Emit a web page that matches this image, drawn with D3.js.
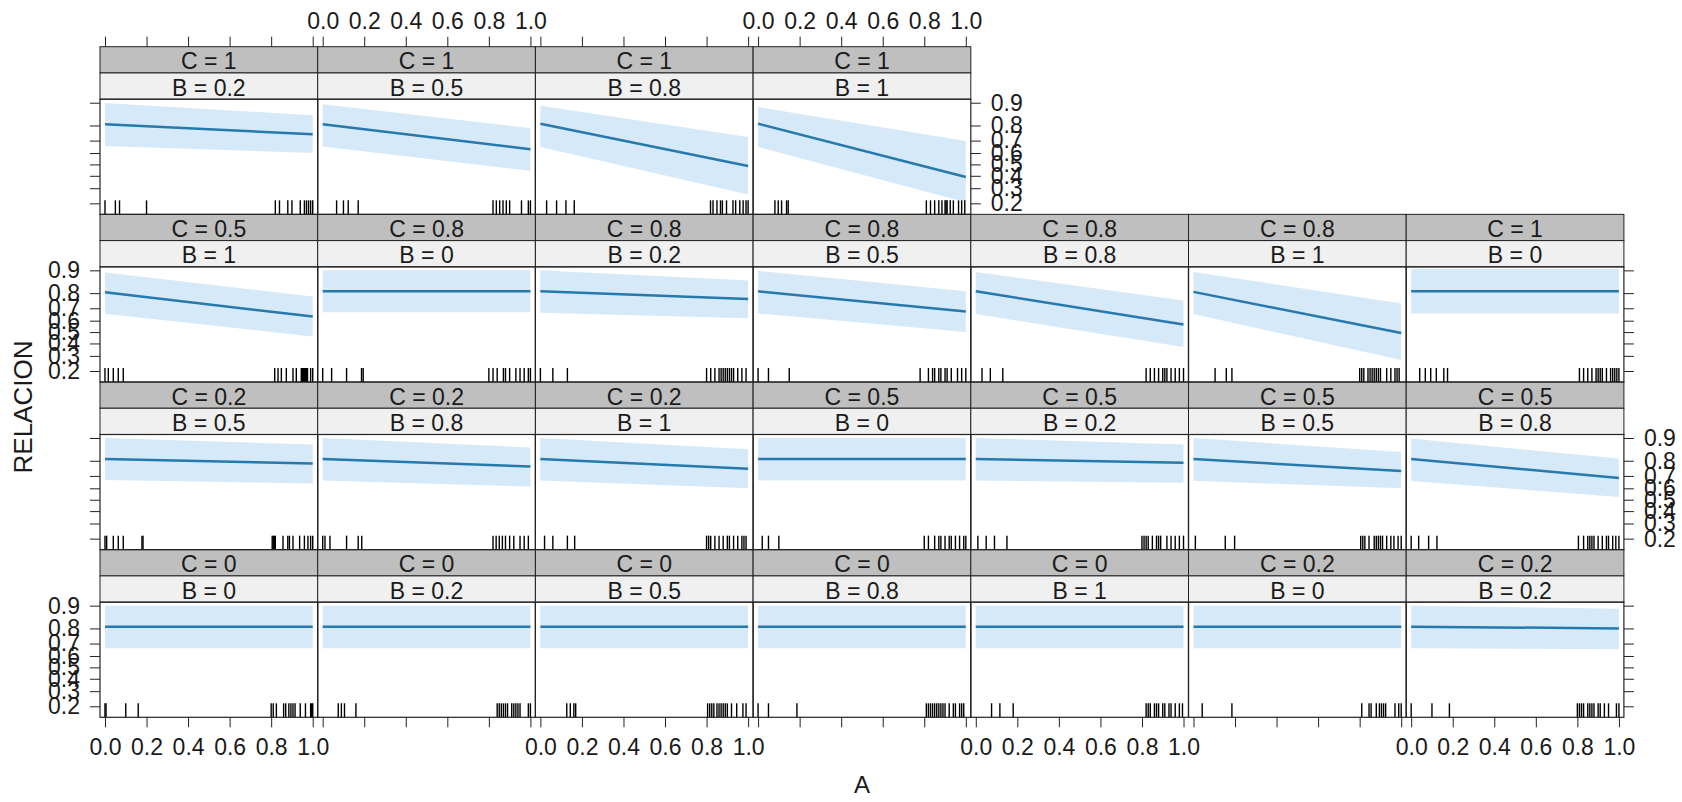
<!DOCTYPE html>
<html>
<head>
<meta charset="utf-8">
<script src="https://cdn.jsdelivr.net/npm/d3@7"></script>
<style>
  body { margin: 0; background: #fff; }
  svg text { font-family: "Liberation Sans Narrow", "Arial Narrow", "Liberation Sans", Arial, sans-serif; fill: #1a1a1a; }
</style>
</head>
<body>
<div id="viz"></div>
<script>
// conditioning levels of each panel, in lattice order (bottom-left first, then row by row upwards)
const panelC = [0, 0, 0, 0, 0, 0.2, 0.2,
                0.2, 0.2, 0.2, 0.5, 0.5, 0.5, 0.5,
                0.5, 0.8, 0.8, 0.8, 0.8, 0.8, 1,
                1, 1, 1, 1];
const panelB = [0, 0.2, 0.5, 0.8, 1, 0, 0.2,
                0.5, 0.8, 1, 0, 0.2, 0.5, 0.8,
                1, 0, 0.2, 0.5, 0.8, 1, 0,
                0.2, 0.5, 0.8, 1];

// fitted RELACION and confidence band at A = 0 and A = 1
const fitStart   = [0.81, 0.81, 0.81, 0.81, 0.81, 0.81, 0.81,
                    0.81, 0.81, 0.81, 0.81, 0.81, 0.81, 0.81,
                    0.805, 0.81, 0.81, 0.81, 0.81, 0.807, 0.81,
                    0.807, 0.807, 0.81, 0.81];
const fitEnd     = [0.81, 0.81, 0.81, 0.81, 0.81, 0.81, 0.80,
                    0.784, 0.765, 0.75, 0.81, 0.788, 0.735, 0.685,
                    0.635, 0.81, 0.765, 0.675, 0.567, 0.492, 0.81,
                    0.745, 0.632, 0.486, 0.39];
const lowerStart = [0.664, 0.664, 0.664, 0.664, 0.664, 0.664, 0.664,
                    0.668, 0.665, 0.665, 0.664, 0.665, 0.662, 0.66,
                    0.658, 0.67, 0.665, 0.66, 0.655, 0.655, 0.66,
                    0.659, 0.655, 0.65, 0.65];
const lowerEnd   = [0.664, 0.664, 0.664, 0.664, 0.664, 0.664, 0.655,
                    0.64, 0.615, 0.60, 0.664, 0.646, 0.60, 0.525,
                    0.46, 0.67, 0.62, 0.50, 0.37, 0.27, 0.66,
                    0.60, 0.442, 0.256, 0.207];
const upperStart = [0.9, 0.9, 0.9, 0.9, 0.9, 0.9, 0.9,
                    0.9, 0.9, 0.9, 0.9, 0.9, 0.9, 0.898,
                    0.893, 0.9, 0.9, 0.898, 0.895, 0.895, 0.905,
                    0.899, 0.895, 0.89, 0.885];
const upperEnd   = [0.9, 0.9, 0.9, 0.9, 0.9, 0.9, 0.89,
                    0.877, 0.865, 0.858, 0.9, 0.877, 0.845, 0.812,
                    0.78, 0.9, 0.862, 0.81, 0.755, 0.734, 0.905,
                    0.852, 0.784, 0.727, 0.697];

// observed A values shown as rug in each panel
const rugA = [
  [0, 0.005, 0.1, 0.16, 0.8, 0.81, 0.825, 0.86, 0.87, 0.885, 0.895, 0.905, 0.915, 0.94, 0.965, 0.99, 0.995, 1.0],
  [0.075, 0.09, 0.105, 0.16, 0.84, 0.85, 0.86, 0.87, 0.88, 0.89, 0.91, 0.92, 0.93, 0.94, 0.95, 0.99, 1.0],
  [0.127, 0.144, 0.161, 0.17, 0.805, 0.815, 0.825, 0.835, 0.85, 0.86, 0.87, 0.88, 0.89, 0.9, 0.92, 0.945, 0.975, 0.99],
  [0, 0.05, 0.187, 0.81, 0.82, 0.83, 0.84, 0.85, 0.86, 0.87, 0.88, 0.89, 0.9, 0.92, 0.94, 0.95, 0.97, 0.98, 0.99],
  [0.076, 0.116, 0.18, 0.82, 0.83, 0.84, 0.86, 0.87, 0.88, 0.9, 0.91, 0.93, 0.94, 0.96, 0.98, 0.995],
  [0.042, 0.185, 0.81, 0.845, 0.855, 0.88, 0.895, 0.905, 0.915, 0.925, 0.97, 0.988, 1.0],
  [0.0, 0.1, 0.184, 0.8, 0.81, 0.82, 0.83, 0.85, 0.86, 0.87, 0.88, 0.9, 0.91, 0.93, 0.95, 0.988, 1.0],
  [0, 0.008, 0.04, 0.064, 0.088, 0.178, 0.183, 0.805, 0.81, 0.815, 0.82, 0.857, 0.88, 0.888, 0.905, 0.937, 0.96, 0.977, 0.99, 1.0],
  [0, 0.011, 0.035, 0.115, 0.171, 0.188, 0.82, 0.835, 0.85, 0.865, 0.88, 0.9, 0.92, 0.95, 0.97, 0.99],
  [0.02, 0.06, 0.13, 0.165, 0.8, 0.81, 0.82, 0.84, 0.86, 0.88, 0.9, 0.91, 0.93, 0.95, 0.97, 0.98, 0.99],
  [0.02, 0.05, 0.1, 0.8, 0.82, 0.85, 0.87, 0.88, 0.9, 0.92, 0.93, 0.95, 0.97, 0.99, 1.0],
  [0.01, 0.05, 0.09, 0.15, 0.8, 0.81, 0.82, 0.83, 0.85, 0.87, 0.88, 0.89, 0.92, 0.94, 0.96, 0.98, 1.0],
  [0.009, 0.153, 0.198, 0.805, 0.815, 0.825, 0.845, 0.87, 0.88, 0.89, 0.9, 0.91, 0.93, 0.95, 0.965, 0.985, 1.0],
  [0, 0.036, 0.084, 0.124, 0.805, 0.83, 0.85, 0.86, 0.87, 0.88, 0.9, 0.92, 0.94, 0.95, 0.97, 0.985, 1.0],
  [0, 0.016, 0.04, 0.064, 0.088, 0.817, 0.833, 0.849, 0.873, 0.905, 0.921, 0.945, 0.95, 0.955, 0.96, 0.965, 0.97, 0.975, 0.99, 1.0],
  [0, 0.043, 0.115, 0.187, 0.195, 0.8, 0.82, 0.84, 0.87, 0.88, 0.9, 0.93, 0.95, 0.97, 0.99, 1.0],
  [0.0, 0.06, 0.13, 0.8, 0.82, 0.84, 0.86, 0.87, 0.88, 0.89, 0.9, 0.91, 0.92, 0.93, 0.95, 0.97, 0.99],
  [0.0, 0.05, 0.15, 0.78, 0.82, 0.84, 0.85, 0.87, 0.88, 0.9, 0.91, 0.93, 0.96, 0.98, 1.0],
  [0.03, 0.07, 0.13, 0.82, 0.84, 0.86, 0.88, 0.9, 0.91, 0.92, 0.94, 0.96, 0.98, 1.0],
  [0.104, 0.158, 0.185, 0.8, 0.81, 0.82, 0.84, 0.85, 0.86, 0.87, 0.88, 0.89, 0.9, 0.93, 0.95, 0.97, 0.98, 0.99],
  [0.041, 0.068, 0.094, 0.121, 0.157, 0.175, 0.81, 0.83, 0.85, 0.87, 0.89, 0.9, 0.91, 0.92, 0.94, 0.96, 0.97, 0.98, 0.99, 1.0],
  [0, 0.05, 0.07, 0.2, 0.82, 0.84, 0.88, 0.9, 0.94, 0.96, 0.97, 0.98, 0.99, 1.0],
  [0.067, 0.1, 0.123, 0.171, 0.82, 0.836, 0.852, 0.868, 0.884, 0.9, 0.957, 0.99, 1.0],
  [0.03, 0.078, 0.123, 0.163, 0.819, 0.831, 0.85, 0.867, 0.876, 0.896, 0.927, 0.94, 0.96, 0.976, 0.99, 1.0],
  [0.081, 0.097, 0.113, 0.137, 0.145, 0.81, 0.83, 0.85, 0.87, 0.885, 0.9, 0.905, 0.91, 0.925, 0.94, 0.965, 0.98, 0.995]
];

const xTicks = [0, 0.2, 0.4, 0.6, 0.8, 1.0];
const yTicks = [0.2, 0.3, 0.4, 0.5, 0.6, 0.7, 0.8, 0.9];

// page layout
const width = 1682, height = 802;
const marginLeft = 100, marginTop = 46.7;
const nCols = 7, nRows = 4;
const colW = 217.7, rowH = 167.65, stripH = 26.25;
const panelH = rowH - 2 * stripH;
const fontSize = "23px";
const lineColor = "#2678ad", bandColor = "#d6e9f8";
const darkStrip = "#bfbfbf", lightStrip = "#f0f0f0", frame = "#222";

const logit = p => Math.log(p / (1 - p));

let svg = d3.select("#viz")
  .append("svg")
    .attr("width", width)
    .attr("height", height);

// x and y scales shared by every panel (y is on the logit scale, like effects plots)
let xScale = d3.scaleLinear()
  .domain([-0.024, 1.024])
  .range([0, colW]);
let yLogit = d3.scaleLinear()
  .domain([-1.778, 2.322])
  .range([panelH, 0]);
let yScale = p => yLogit(logit(p));

function styleAxis(g) {
  g.select(".domain").remove();
  g.selectAll(".tick line").attr("stroke", frame);
  g.selectAll(".tick text")
    .style("font-size", fontSize)
    .attr("fill", "#1a1a1a");
  g.attr("font-family", null).attr("font-size", null);
}

let lastInRow = [3, 6, 6, 6]; // row index from top -> column of the last panel

for (let i = 0; i < panelC.length; i++) {
  let col = i % nCols;
  let row = nRows - 1 - Math.floor(i / nCols);  // row counted from the top
  let x0 = marginLeft + col * colW;
  let y0 = marginTop + row * rowH;

  let g = svg.append("g")
    .attr("transform", "translate(" + x0 + "," + y0 + ")");

  // strips: C on the outer one, B on the inner one
  g.append("rect")
    .attr("width", colW).attr("height", stripH)
    .attr("fill", darkStrip).attr("stroke", frame);
  g.append("rect")
    .attr("y", stripH)
    .attr("width", colW).attr("height", stripH)
    .attr("fill", lightStrip).attr("stroke", frame);
  g.append("text")
    .attr("x", colW / 2).attr("y", stripH / 2 + 1.5)
    .attr("dy", "0.35em")
    .attr("text-anchor", "middle")
    .style("font-size", fontSize)
    .text("C = " + panelC[i]);
  g.append("text")
    .attr("x", colW / 2).attr("y", stripH * 1.5 + 1.5)
    .attr("dy", "0.35em")
    .attr("text-anchor", "middle")
    .style("font-size", fontSize)
    .text("B = " + panelB[i]);

  let panel = g.append("g")
    .attr("transform", "translate(0," + (2 * stripH) + ")");

  // confidence band and fitted line
  let pts = [
    {a: 0, fit: fitStart[i], lo: lowerStart[i], hi: upperStart[i]},
    {a: 1, fit: fitEnd[i], lo: lowerEnd[i], hi: upperEnd[i]}
  ];
  panel.append("path")
    .datum(pts)
    .attr("fill", bandColor)
    .attr("d", d3.area()
      .x(d => xScale(d.a))
      .y0(d => yScale(d.lo))
      .y1(d => yScale(d.hi)));
  panel.append("path")
    .datum(pts)
    .attr("fill", "none")
    .attr("stroke", lineColor)
    .attr("stroke-width", 2.5)
    .attr("d", d3.line()
      .x(d => xScale(d.a))
      .y(d => yScale(d.fit)));

  // rug of observed A
  panel.selectAll("line.rug")
    .data(rugA[i])
    .enter()
      .append("line")
      .attr("class", "rug")
      .attr("x1", d => xScale(d)).attr("x2", d => xScale(d))
      .attr("y1", panelH).attr("y2", panelH - 14)
      .attr("stroke", "#000")
      .attr("stroke-width", 1.4);

  panel.append("rect")
    .attr("width", colW).attr("height", panelH)
    .attr("fill", "none").attr("stroke", frame).attr("stroke-width", 1.2);

  // bottom axis under the lowest row, labels alternate
  if (row === nRows - 1) {
    panel.append("g")
      .attr("transform", "translate(0," + panelH + ")")
      .call(d3.axisBottom(xScale)
        .tickValues(xTicks)
        .tickSize(10).tickSizeOuter(0).tickPadding(11)
        .tickFormat(col % 2 === 0 ? d3.format(".1f") : () => ""))
      .call(styleAxis);
  }
  // top axis above the top row
  if (row === 0) {
    g.append("g")
      .call(d3.axisTop(xScale)
        .tickValues(xTicks)
        .tickSize(10).tickSizeOuter(0).tickPadding(8)
        .tickFormat(col % 2 === 1 ? d3.format(".1f") : () => ""))
      .call(styleAxis);
  }
  // left axis
  if (col === 0) {
    panel.append("g")
      .call(d3.axisLeft(yLogit)
        .tickValues(yTicks.map(logit))
        .tickSize(10).tickSizeOuter(0).tickPadding(10)
        .tickFormat(row % 2 === 1 ? (d, k) => d3.format(".1f")(yTicks[k]) : () => ""))
      .call(styleAxis);
  }
  // right axis on the last panel of each row
  if (col === lastInRow[row]) {
    panel.append("g")
      .attr("transform", "translate(" + colW + ",0)")
      .call(d3.axisRight(yLogit)
        .tickValues(yTicks.map(logit))
        .tickSize(10).tickSizeOuter(0).tickPadding(10)
        .tickFormat(row % 2 === 0 ? (d, k) => d3.format(".1f")(yTicks[k]) : () => ""))
      .call(styleAxis);
  }
}

// axis titles
svg.append("text")
  .attr("transform", "translate(23,407) rotate(-90)")
  .attr("dy", "0.35em")
  .attr("text-anchor", "middle")
  .style("font-size", "26px")
  .text("RELACION");
svg.append("text")
  .attr("x", marginLeft + nCols * colW / 2)
  .attr("y", 785)
  .attr("dy", "0.35em")
  .attr("text-anchor", "middle")
  .style("font-size", "24px")
  .text("A");
</script>
</body>
</html>
